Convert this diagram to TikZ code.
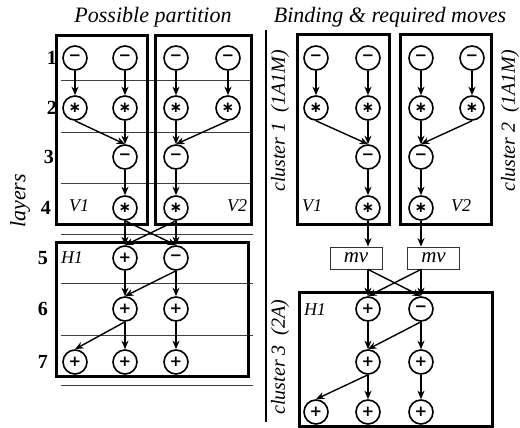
\documentclass[tikz,border=0pt]{standalone}
\usepackage{fontspec}
\setmainfont{Liberation Serif}
\newfontfamily\symfont{DejaVu Sans}
\usetikzlibrary{arrows.meta}
\begin{document}
\begin{tikzpicture}[x=1pt,y=-1pt,
  op/.style={circle,draw,line width=1.6pt,minimum size=24pt,inner sep=0pt,font=\symfont\bfseries\fontsize{15}{15}\selectfont},
  box/.style={draw,line width=3pt},
  edge/.style={line width=1.4pt,-{Stealth[length=8.5pt,width=7pt]}},
  lay/.style={line width=0.8pt,draw=black!75},
  ttl/.style={font=\fontsize{22}{24}\selectfont\itshape},
  lbl/.style={font=\fontsize{18}{18}\selectfont\itshape},
  num/.style={font=\fontsize{20}{20}\selectfont\bfseries,anchor=east,inner sep=0pt},
  mvbox/.style={draw=black!80,line width=0.8pt,minimum width=52pt,minimum height=22pt,inner sep=0pt,font=\fontsize{21}{21}\selectfont\itshape},
  side/.style={rotate=90,font=\fontsize{20}{22}\selectfont\itshape,inner sep=0pt}
]
\useasboundingbox (0,0) rectangle (520,428);

% ---------- titles ----------
\node[ttl] (t1) at (153,17) {Possible partition};
\node[ttl] (t2) at (390,17) {Binding \& required moves};

% ---------- left panel: layer lines ----------
\foreach \yy in {80,132,183,234,283,335,385}
  \draw[lay] (61,\yy) -- (253,\yy);

% layer numbers
\node[num] (n1) at (57,58) {1};
\node[num] (n2) at (57,108) {2};
\node[num] (n3) at (54,157) {3};
\node[num] (n4) at (51,208) {4};
\node[num] (n5) at (48,258) {5};
\node[num] (n6) at (48,309) {6};
\node[num] (n7) at (48,362) {7};
\node[side,font=\fontsize{22}{22}\selectfont\itshape] (lay) at (20,201) {layers};

% boxes
\draw[box] (56,36) rectangle (147,224);
\draw[box] (155,36) rectangle (251,224);
\draw[box] (56,242) rectangle (248,376);
\node[lbl] (lv1) at (79,206) {V1};
\node[lbl] (lv2) at (237,206) {V2};
\node[lbl] (lh1) at (72,258) {H1};

% nodes
\node[op] (l1a) at (75,58) {−};
\node[op] (l1b) at (125,58) {−};
\node[op] (l1c) at (176,58) {−};
\node[op] (l1d) at (228,58) {−};
\node[op] (l2a) at (75,108) {∗};
\node[op] (l2b) at (125,108) {∗};
\node[op] (l2c) at (176,108) {∗};
\node[op] (l2d) at (228,108) {∗};
\node[op] (l3b) at (125,157) {−};
\node[op] (l3c) at (176,157) {−};
\node[op] (l4b) at (125,208) {∗};
\node[op] (l4c) at (176,208) {∗};
\node[op] (l5b) at (125,258) {+};
\node[op] (l5c) at (176,258) {−};
\node[op] (l6b) at (125,309) {+};
\node[op] (l6c) at (176,309) {+};
\node[op] (l7a) at (75,362) {+};
\node[op] (l7b) at (125,362) {+};
\node[op] (l7c) at (176,362) {+};

% edges
\foreach \s/\t in {l1a/l2a,l1b/l2b,l1c/l2c,l1d/l2d,l2a/l3b,l2b/l3b,l2c/l3c,l2d/l3c,
  l3b/l4b,l3c/l4c,l4b/l5b,l4b/l5c,l4c/l5c,l4c/l5b,l5b/l6b,l5c/l6b,l5c/l6c,
  l6b/l7a,l6b/l7b,l6c/l7c}
  \draw[edge] (\s.south) -- (\t.north);

% ---------- separator ----------
\draw[line width=2.8pt] (266,30) -- (266,422);

% ---------- right panel ----------
\draw[box] (297,35) rectangle (389,224);
\draw[box] (400,35) rectangle (491,224);
\draw[box] (299,292) rectangle (492,426);
\node[lbl] (rv1) at (312,206) {V1};
\node[lbl] (rv2) at (461,206) {V2};
\node[lbl] (rh1) at (315,310) {H1};

\node[side] (c1) at (280,121) {cluster 1\ \ (1A1M)};
\node[side] (c2) at (510,121) {cluster 2\ \ (1A1M)};
\node[side] (c3) at (280,357) {cluster 3\ \ (2A)};

\node[op] (r1a) at (316,58) {−};
\node[op] (r1b) at (368,58) {−};
\node[op] (r1c) at (421,58) {−};
\node[op] (r1d) at (472,58) {−};
\node[op] (r2a) at (316,108) {∗};
\node[op] (r2b) at (368,108) {∗};
\node[op] (r2c) at (421,108) {∗};
\node[op] (r2d) at (472,108) {∗};
\node[op] (r3b) at (368,157) {−};
\node[op] (r3c) at (421,157) {−};
\node[op] (r4b) at (368,208) {∗};
\node[op] (r4c) at (421,208) {∗};
\node[mvbox] (mv1) at (356,258) {mv};
\node[mvbox] (mv2) at (433.5,258) {mv};
\node[op] (r5b) at (368,309) {+};
\node[op] (r5c) at (421,309) {−};
\node[op] (r6b) at (368,362) {+};
\node[op] (r6c) at (421,362) {+};
\node[op] (r7a) at (316,412) {+};
\node[op] (r7b) at (368,412) {+};
\node[op] (r7c) at (421,412) {+};

\foreach \s/\t in {r1a/r2a,r1b/r2b,r1c/r2c,r1d/r2d,r2a/r3b,r2b/r3b,r2c/r3c,r2d/r3c,
  r3b/r4b,r3c/r4c,r5b/r6b,r5c/r6b,r5c/r6c,r6b/r7a,r6b/r7b,r6c/r7c}
  \draw[edge] (\s.south) -- (\t.north);

\draw[edge] (r4b.south) -- (r4b.south |- mv1.north);
\draw[edge] (r4c.south) -- (r4c.south |- mv2.north);
\draw[edge] (r5b.north |- mv1.south) -- (r5b.north);
\draw[edge] (r5b.north |- mv1.south) -- (r5c.north);
\draw[edge] (r5c.north |- mv2.south) -- (r5c.north);
\draw[edge] (r5c.north |- mv2.south) -- (r5b.north);
\end{tikzpicture}
\end{document}
